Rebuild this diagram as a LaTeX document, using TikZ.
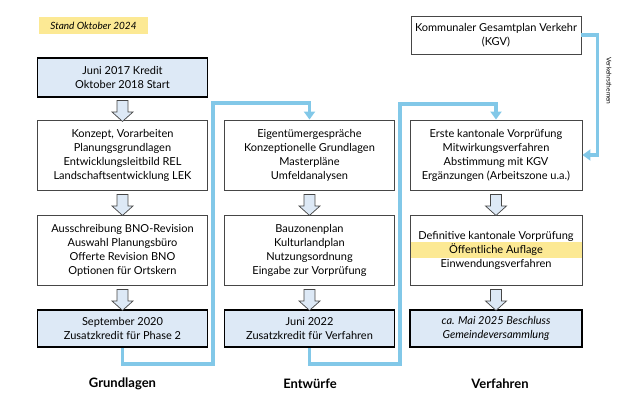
\documentclass[tikz,border=0pt]{standalone}
\usepackage{fontspec}
\setmainfont{Lato}
\usetikzlibrary{arrows.meta,shapes.arrows,backgrounds}

\definecolor{flowblue}{RGB}{130,200,232}
\definecolor{headblue}{RGB}{221,233,246}
\definecolor{markyellow}{RGB}{252,233,148}
\definecolor{boxgray}{RGB}{70,70,70}

\tikzset{
  box/.style={draw=boxgray,line width=0.9pt,minimum width=170pt,minimum height=70pt,
    align=center,inner sep=2pt,font=\fontsize{11}{14}\selectfont},
  headbox/.style={box,draw=black,line width=1.9pt,fill=headblue,minimum height=37pt},
  blockdown/.style={single arrow,draw=boxgray,fill=headblue,line width=0.7pt,rotate=-90,
    minimum width=21pt,minimum height=21pt,single arrow head extend=5pt,
    single arrow tip angle=96,inner sep=5pt},
  flow/.style={draw=flowblue,line width=3.4pt,-{Triangle[width=11pt,length=8pt]}},
  phase/.style={font=\fontsize{13}{15}\selectfont\bfseries}
}

\begin{document}
\begin{tikzpicture}[x=1pt,y=1pt]
\useasboundingbox (0,0) rectangle (624,402);

\node[fill=markyellow,minimum width=109pt,minimum height=17pt,inner sep=0pt,
  font=\fontsize{10}{12}\selectfont\itshape] (stand) at (93.5,376.5) {Stand Oktober 2024};

% Grundlagen
\node[headbox,minimum height=39pt] (g0) at (122.5,324.5) {Juni 2017 Kredit\\Oktober 2018 Start};
\node[box] (g1) at (122.5,247) {Konzept, Vorarbeiten\\Planungsgrundlagen\\Entwicklungsleitbild REL\\Landschaftsentwicklung LEK};
\node[box] (g2) at (122.5,152) {Ausschreibung BNO-Revision\\Auswahl Planungsbüro\\Offerte Revision BNO\\Optionen für Ortskern};
\node[headbox] (g3) at (122.5,73.5) {September 2020\\Zusatzkredit für Phase 2};

% Entwuerfe
\node[box] (e1) at (309.5,247) {Eigentümergespräche\\Konzeptionelle Grundlagen\\Masterpläne\\Umfeldanalysen};
\node[box] (e2) at (309.5,152) {Bauzonenplan\\Kulturlandplan\\Nutzungsordnung\\Eingabe zur Vorprüfung};
\node[headbox] (e3) at (309.5,73.5) {Juni 2022\\Zusatzkredit für Verfahren};

% Verfahren
\node[box,minimum height=38pt] (kgv) at (496,367) {Kommunaler Gesamtplan Verkehr\\(KGV)};
\node[box,minimum width=172pt] (v1) at (496,247) {Erste kantonale Vorprüfung\\Mitwirkungsverfahren\\Abstimmung mit KGV\\Ergänzungen (Arbeitszone u.a.)};
\node[box,minimum width=172pt] (v2) at (496,152) {Definitive kantonale Vorprüfung\\Öffentliche Auflage\\Einwendungsverfahren};
\node[headbox,minimum width=172pt,font=\fontsize{11}{14}\selectfont\itshape] (v3) at (496,73.5) {ca. Mai 2025 Beschluss\\Gemeindeversammlung};

\begin{scope}[on background layer]
\fill[markyellow] ([yshift=-8pt]v2.west) rectangle ([yshift=8pt]v2.east);
\end{scope}

% block arrows
\node[blockdown] (ga) at (122.5,293.5) {};
\node[blockdown] (gb) at (122.5,199.5) {};
\node[blockdown] (gc) at (122.5,104.5) {};
\node[blockdown] (eb) at (309.5,199.5) {};
\node[blockdown] (ec) at (309.5,104.5) {};
\node[blockdown] (vb) at (496,199.5) {};
\node[blockdown] (vc) at (496,104.5) {};

% phase links
\draw[flow] (g3.south) -- ++(0,-16) -| (213,299) -| (e1.north);
\draw[flow] (e3.south) -- ++(0,-16) -| (400,298) -| (v1.north);
\draw[flow] (kgv.east) -- ++(16,0) |- (v1.east);
\node[rotate=-90,font=\fontsize{6.5}{7}\selectfont] (thema) at (609,321) {Verkehrsthemen};

\node[phase] (p1) at (122.5,18) {Grundlagen};
\node[phase] (p2) at (310,18) {Entwürfe};
\node[phase] (p3) at (500,18) {Verfahren};
\end{tikzpicture}
\end{document}
